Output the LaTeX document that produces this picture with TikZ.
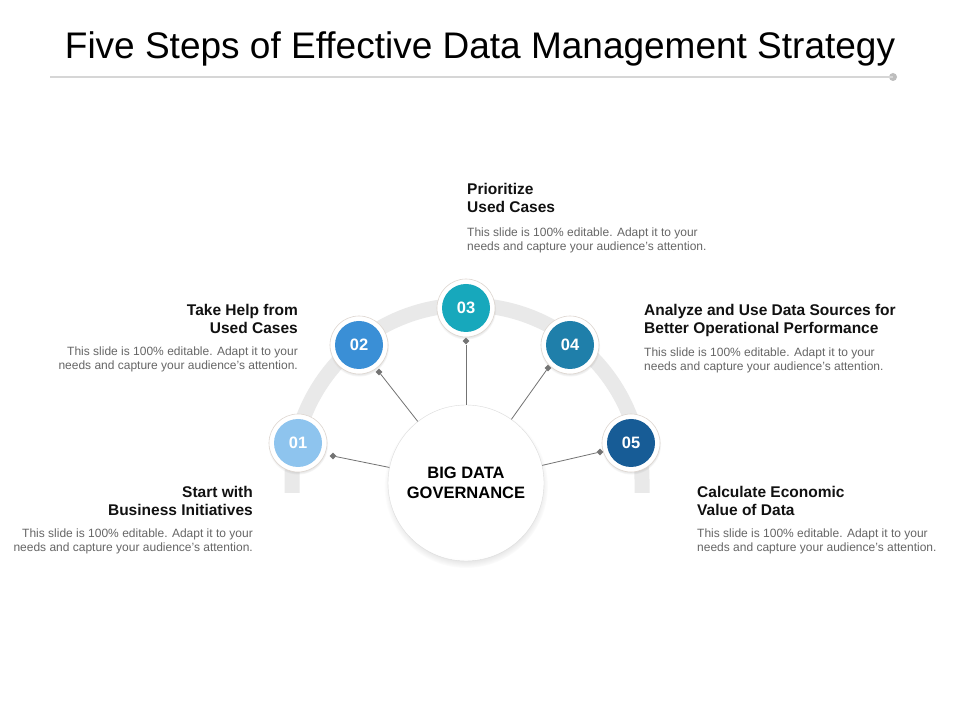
\documentclass[tikz,border=0pt]{standalone}
\usepackage{fontspec}
\setmainfont{Liberation Sans}
\usetikzlibrary{shapes.geometric,shadows}
\definecolor{cone}{HTML}{8EC4EE}
\definecolor{ctwo}{HTML}{3A8FD6}
\definecolor{cthree}{HTML}{17A8BC}
\definecolor{cfour}{HTML}{1F7FAA}
\definecolor{cfive}{HTML}{175C96}
\definecolor{bandgray}{HTML}{E9E9E9}
\definecolor{ringgray}{HTML}{DDD6D0}
\definecolor{linegray}{HTML}{737373}
\definecolor{rulegray}{HTML}{D6D6D6}
\definecolor{dotgray}{HTML}{BDBDBD}
\definecolor{headc}{HTML}{111111}
\definecolor{bodyc}{HTML}{666666}
\definecolor{hubedge}{HTML}{DCDCDC}
\definecolor{hubmid}{HTML}{F0F0F0}
\pgfdeclareradialshading{hubshade}{\pgfpoint{0bp}{6bp}}{%
  color(0bp)=(white); color(28bp)=(white); color(42bp)=(hubmid); color(50bp)=(hubedge); color(100bp)=(hubedge)}
\begin{document}
\begin{tikzpicture}[x=1pt,y=1pt,
  numring/.style={circle, fill=white, draw=ringgray, line width=0.6pt, minimum size=58pt, inner sep=0pt,
    circular drop shadow={shadow xshift=0pt, shadow yshift=-1.5pt, opacity=0.3, shadow scale=1.04}},
  numdisk/.style={circle, minimum size=48pt, inner sep=0pt, text=white, font=\bfseries\fontsize{16.5}{16.5}\selectfont},
  hubnode/.style={circle, minimum size=156pt, inner sep=0pt, shading=hubshade, draw=hubedge, line width=0.4pt,
    circular drop shadow={shadow xshift=0pt, shadow yshift=-3pt, opacity=0.3, shadow scale=1.05},
    font=\bfseries\fontsize{16.5}{20}\selectfont, text=black, align=center},
  dia/.style={diamond, fill=linegray, minimum size=7pt, inner sep=0pt},
  conn/.style={draw=linegray, line width=0.8pt},
  head/.style={font=\bfseries\fontsize{15.5}{18}\selectfont, text=headc, inner sep=0pt},
  body/.style={font=\fontsize{12}{14}\selectfont, text=bodyc, inner sep=0pt}
]
\useasboundingbox (0,0) rectangle (960,720);
\fill[white] (0,0) rectangle (960,720);

% title
\node[font=\fontsize{37}{40}\selectfont, text=black, anchor=base, inner sep=0pt] (title) at (480,661)
  {Five Steps of Effective Data Management Strategy};
\coordinate (ruleL) at (50,643);
\node[circle, fill=dotgray, minimum size=8pt, inner sep=0pt] (ruledot) at (893,643) {};
\draw[rulegray, line width=1.2pt] (ruleL) -- (ruledot.center);

% band
\draw[bandgray, line width=15pt] (292,227) -- (292,240) arc (180:0:175) -- (642,227);

% hub
\node[hubnode] (hub) at (466,237) {BIG DATA\\GOVERNANCE};

% diamonds
\node[dia] (d1) at (333,264) {};
\node[dia] (d2) at (379,348) {};
\node[dia] (d3) at (466,379) {};
\node[dia] (d4) at (548,352) {};
\node[dia] (d5) at (600,268) {};

\draw[conn] (hub) -- (d1);
\draw[conn] (hub) -- (d2);
\draw[conn] (hub) -- (d3);
\draw[conn] (hub) -- (d4);
\draw[conn] (hub) -- (d5);

% numbered circles
\node[numring] (r1) at (298,277) {};
\node[numdisk, fill=cone] (c1) at (r1) {01};
\node[numring] (r2) at (359,375) {};
\node[numdisk, fill=ctwo] (c2) at (r2) {02};
\node[numring] (r3) at (466,412) {};
\node[numdisk, fill=cthree] (c3) at (r3) {03};
\node[numring] (r4) at (570,375) {};
\node[numdisk, fill=cfour] (c4) at (r4) {04};
\node[numring] (r5) at (631,277) {};
\node[numdisk, fill=cfive] (c5) at (r5) {05};

% text blocks
\node[head, anchor=north west, align=left] (h3) at (467,537) {Prioritize\\Used Cases};
\node[body, anchor=north west, align=left] (b3) at (467,492) {This slide is 100\% editable. Adapt it to your\\needs and capture your audience's attention.};

\node[head, anchor=north east, align=right] (h2) at (298,416) {Take Help from\\Used Cases};
\node[body, anchor=north east, align=right] (b2) at (298,373) {This slide is 100\% editable. Adapt it to your\\needs and capture your audience's attention.};

\node[head, anchor=north west, align=left] (h4) at (644,416) {Analyze and Use Data Sources for\\Better Operational Performance};
\node[body, anchor=north west, align=left] (b4) at (644,372) {This slide is 100\% editable. Adapt it to your\\needs and capture your audience's attention.};

\node[head, anchor=north east, align=right] (h1) at (253,234) {Start with\\Business Initiatives};
\node[body, anchor=north east, align=right] (b1) at (253,191) {This slide is 100\% editable. Adapt it to your\\needs and capture your audience's attention.};

\node[head, anchor=north west, align=left] (h5) at (697,234) {Calculate Economic\\Value of Data};
\node[body, anchor=north west, align=left] (b5) at (697,191) {This slide is 100\% editable. Adapt it to your\\needs and capture your audience's attention.};
\end{tikzpicture}
\end{document}
